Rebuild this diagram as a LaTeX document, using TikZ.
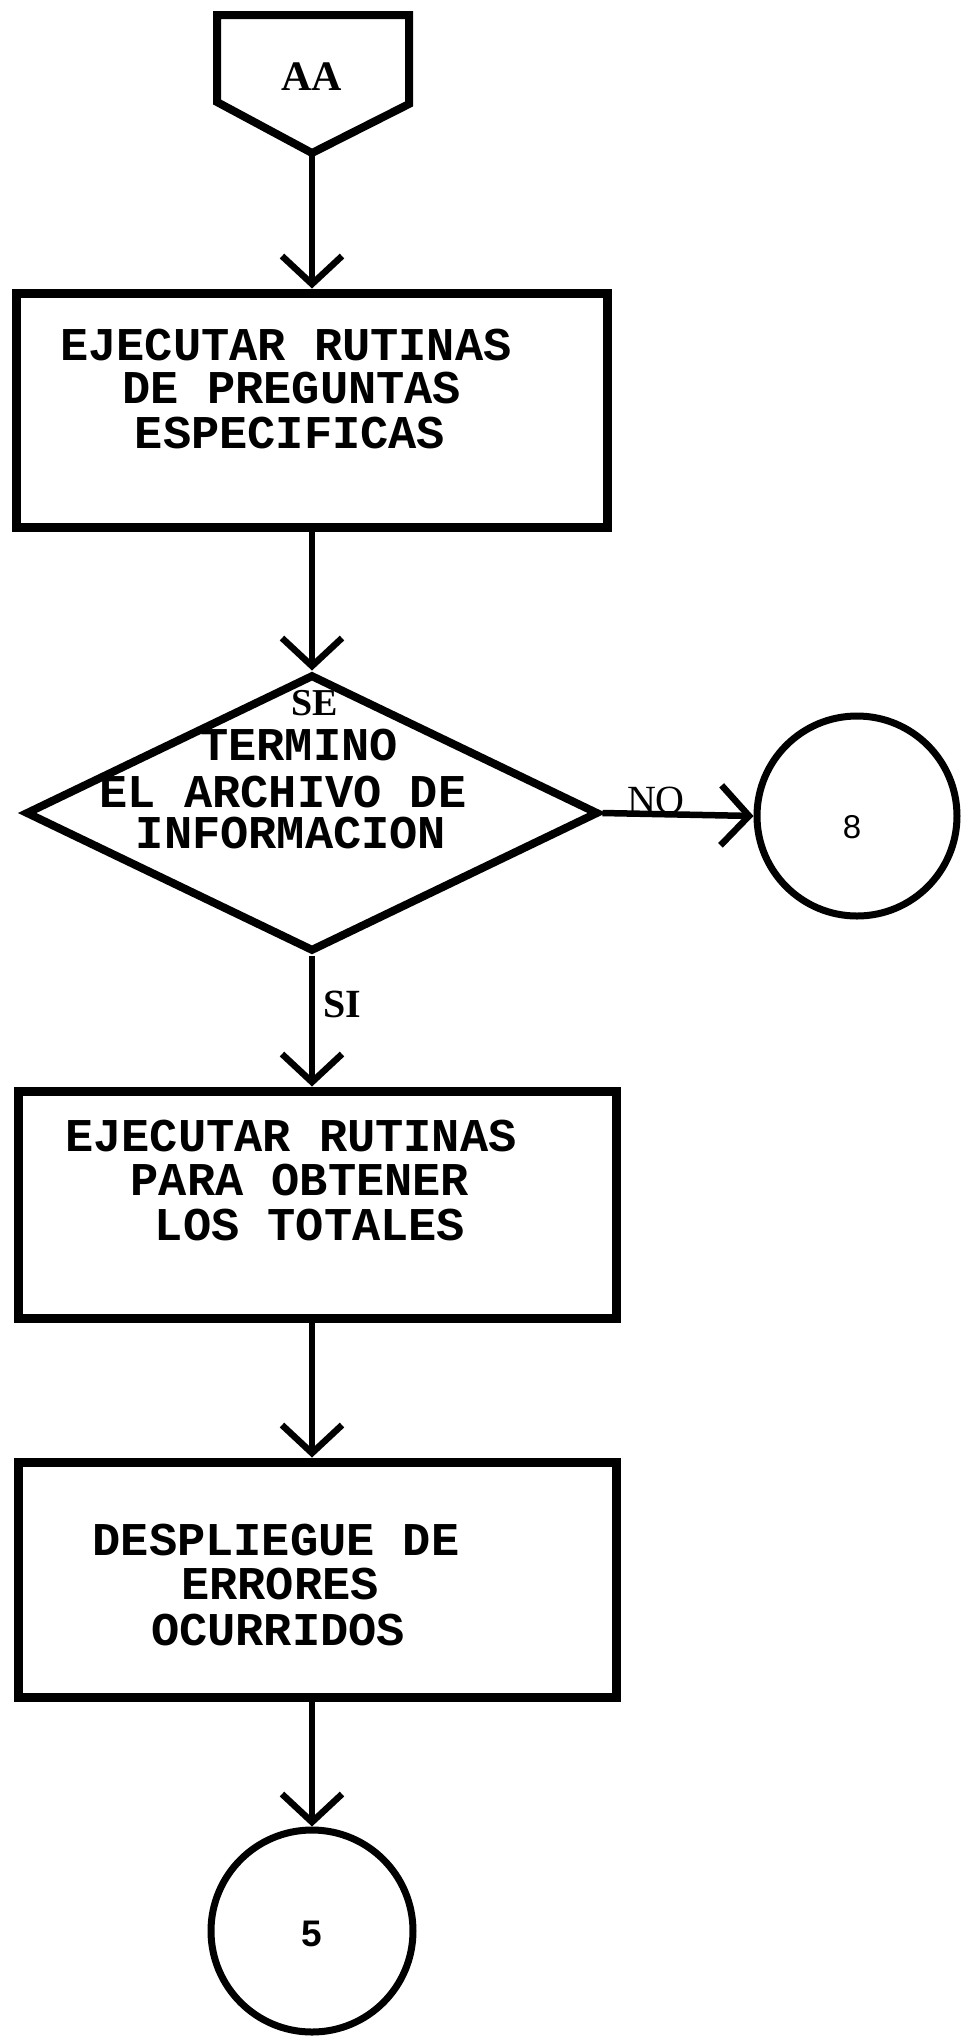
\documentclass[tikz,border=0pt]{standalone}
\usepackage{fontspec}
\usetikzlibrary{shapes.geometric,arrows.meta}
\newfontfamily\twfont{Liberation Mono}
\newfontfamily\serfont{Liberation Serif}
\newfontfamily\sanfont{Liberation Sans}
\tikzset{
  boxshape/.style={draw, line width=9pt, inner sep=0pt},
  diashape/.style={draw, diamond, line width=8pt, inner sep=0pt, minimum width=573pt, minimum height=277pt},
  circshape/.style={draw, circle, line width=7pt, inner sep=0pt, minimum size=200pt},
  penta/.style={draw, line width=8pt, line join=miter},
  twtext/.style={font=\twfont\bfseries\fontsize{47}{47}\selectfont, inner sep=0pt, anchor=base},
  boldlbl/.style={font=\serfont\bfseries\fontsize{40}{40}\selectfont, inner sep=0pt, anchor=base},
  arr/.style={line width=6.5pt, -{Straight Barb[length=28pt,width=60pt]}},
}
\begin{document}
\begin{tikzpicture}[x=1pt,y=-1pt]
\useasboundingbox (0,0) rectangle (962,2038);
% off-page connector AA
\draw[penta] (217,15) -- (409,15) -- (409,104) -- (312,153) -- (217,102) -- cycle;
\coordinate (aatip) at (312,153);
\node[boldlbl, font=\serfont\bfseries\fontsize{42}{42}\selectfont] (aa) at (312,90) {AA};

% box 1
\node[boxshape, minimum width=591pt, minimum height=234pt] (b1) at (312,410) {};
\node[twtext] (t1a) at (286,360) {EJECUTAR RUTINAS};
\node[twtext] (t1b) at (292,403) {DE PREGUNTAS};
\node[twtext] (t1c) at (290,448) {ESPECIFICAS};

% decision
\node[diashape] (d) at (312,813) {};
\node[boldlbl, font=\serfont\bfseries\fontsize{38}{38}\selectfont] (tda) at (315,715) {SE};
\node[twtext] (tdb) at (299,760) {TERMINO};
\node[twtext] (tdc) at (283,807) {EL ARCHIVO DE};
\node[twtext] (tdd) at (291,848) {INFORMACION};

% connector 8
\node[circshape] (c8) at (857,816) {};
\node[inner sep=0pt, anchor=base, font=\sanfont\fontsize{33}{33}\selectfont] (t8) at (852,838) {8};

% box 2
\node[boxshape, minimum width=598pt, minimum height=227pt] (b2) at (317,1204.5) {};
\node[twtext] (t2a) at (291,1151) {EJECUTAR RUTINAS};
\node[twtext] (t2b) at (300,1195) {PARA OBTENER};
\node[twtext] (t2c) at (310,1240) {LOS TOTALES};

% box 3
\node[boxshape, minimum width=598pt, minimum height=235pt] (b3) at (317,1579.5) {};
\node[twtext] (t3a) at (276,1555) {DESPLIEGUE DE};
\node[twtext] (t3b) at (280,1599) {ERRORES};
\node[twtext] (t3c) at (278,1645) {OCURRIDOS};

% connector 5
\node[circshape, minimum size=202pt] (c5) at (312,1931) {};
\node[inner sep=0pt, anchor=base, font=\sanfont\bfseries\fontsize{37}{37}\selectfont] (t5) at (312,1946) {5};

% connectors
\draw[arr] (aatip) -- (aatip |- b1.north);
\draw[arr] (b1.south) -- (d.north);
\draw[arr] (d.south) -- (d.south |- b2.north);
\draw[arr] (d.south |- b2.south) -- (d.south |- b3.north);
\draw[arr] (d.south |- b3.south) -- (c5.north);
\draw[arr] (d.east) -- (c8.west);

% branch labels
\node[boldlbl] (si) at (342,1017) {SI};
\node[inner sep=0pt, anchor=base, font=\serfont\fontsize{40}{40}\selectfont] (no) at (656,813) {NO};
\end{tikzpicture}
\end{document}
